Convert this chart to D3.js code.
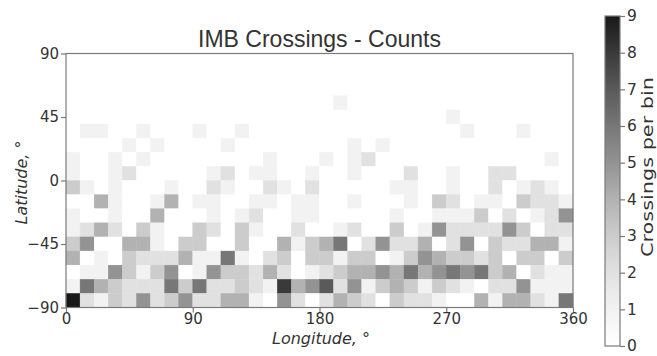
<!DOCTYPE html>
<html>
<head>
<meta charset="utf-8">
<script src="https://cdn.jsdelivr.net/npm/d3@7"></script>
<style>
  body { margin: 0; background: #fff; }
  svg text { font-family: "DejaVu Sans", sans-serif; fill: #333; }
</style>
</head>
<body>
<svg id="chart" width="657" height="356"></svg>
<script>
// bin edges (lower edge of each 10 degree bin)
var lonBins = [0, 10, 20, 30, 40, 50, 60, 70, 80, 90, 100, 110, 120, 130, 140, 150, 160, 170,
               180, 190, 200, 210, 220, 230, 240, 250, 260, 270, 280, 290, 300, 310, 320, 330, 340, 350];
var latBins = [50, 40, 30, 20, 10, 0, -10, -20, -30, -40, -50, -60, -70, -80, -90];

// counts per latitude band, west to east
var lat50 = [0,0,0,0,0,0,0,0,0, 0,0,0,0,0,0,0,0,0, 0,1,0,0,0,0,0,0,0, 0,0,0,0,0,0,0,0,0];
var lat40 = [0,0,0,0,0,0,0,0,0, 0,0,0,0,0,0,0,0,0, 0,0,0,0,0,0,0,0,0, 1,0,0,0,0,0,0,0,0];
var lat30 = [0,1,1,0,0,1,0,0,0, 1,0,0,1,0,0,0,0,0, 0,0,0,0,0,0,0,0,0, 0,1,0,0,0,1,0,0,0];
var lat20 = [0,0,0,0,1,0,1,0,0, 0,0,1,0,0,0,0,0,0, 0,0,1,0,1,0,0,0,0, 0,0,0,0,0,0,0,0,0];
var lat10 = [1,0,0,1,0,1,0,0,0, 0,0,0,0,0,1,0,0,0, 1,0,1,2,0,0,0,0,0, 0,0,0,0,0,0,0,1,0];
var lat0  = [1,0,0,1,2,0,0,0,0, 0,1,2,0,1,1,0,0,1, 0,0,1,0,0,0,2,0,0, 1,0,0,2,2,0,0,0,0];
var latS10 = [3,1,0,1,0,0,0,1,0, 0,2,1,0,0,2,1,0,2, 0,0,0,0,0,1,1,0,0, 1,0,0,2,0,1,2,1,0];
var latS20 = [0,0,4,1,0,0,1,4,0, 1,1,0,0,1,1,0,1,1, 0,0,1,0,0,0,1,0,3, 2,0,1,1,0,3,2,2,1];
var latS30 = [1,0,0,1,0,0,4,0,0, 0,1,0,1,2,0,0,1,1, 0,0,0,0,0,1,0,0,1, 1,1,3,0,2,0,1,2,5];
var latS40 = [1,2,4,2,0,3,1,0,0, 3,2,0,3,1,0,0,2,0, 0,1,2,0,0,3,0,1,5, 2,2,2,2,5,3,0,2,2];
var latS50 = [3,5,0,0,4,4,1,0,3, 3,0,0,3,0,0,4,1,3, 4,6,0,2,5,2,2,4,0, 2,5,0,3,2,2,4,4,1];
var latS60 = [4,0,1,0,3,2,2,2,4, 1,1,6,1,0,2,3,0,3, 3,1,3,3,0,1,3,5,4, 3,3,2,3,0,3,3,0,3];
var latS70 = [0,1,1,5,3,1,3,5,0, 1,5,3,3,2,4,2,0,1, 2,3,4,4,5,4,6,4,5, 6,5,6,3,4,0,2,1,1];
var latS80 = [1,6,4,3,2,2,2,6,3, 6,2,2,3,2,1,8,4,5, 7,2,5,1,3,4,3,1,3, 2,1,0,2,2,5,1,1,1];
var latS90 = [9,2,1,3,2,5,2,3,5, 2,2,4,4,1,0,5,2,0, 2,4,3,2,0,3,2,2,1, 0,0,4,1,4,4,2,1,6];

var bands = [lat50, lat40, lat30, lat20, lat10, lat0, latS10, latS20, latS30, latS40,
             latS50, latS60, latS70, latS80, latS90];

var xTicks = [0, 90, 180, 270, 360];
var yTicks = [90, 45, 0, -45, -90];
var cbarTicks = [0, 1, 2, 3, 4, 5, 6, 7, 8, 9];

var svg = d3.select("#chart");

var x = d3.scaleLinear().domain([0, 360]).range([66, 573]);
var y = d3.scaleLinear().domain([-90, 90]).range([307.5, 53.5]);
// greys, the top end a touch short of pure black like the reference
var color = d3.scaleSequential(function(t) { return d3.interpolateGreys(t * 0.92); }).domain([0, 9]);

var cells = [];
bands.forEach(function(row, i) {
  row.forEach(function(v, j) {
    cells.push({lat: latBins[i], lon: lonBins[j], v: v});
  });
});

svg.append("g").selectAll("rect")
    .data(cells)
  .enter().append("rect")
    .attr("x", function(d) { return x(d.lon); })
    .attr("y", function(d) { return y(d.lat + 10); })
    .attr("width", function(d) { return x(d.lon + 10) - x(d.lon); })
    .attr("height", function(d) { return y(d.lat) - y(d.lat + 10); })
    .attr("fill", function(d) { return color(d.v); })
    .attr("stroke", function(d) { return color(d.v); })
    .attr("stroke-width", 0.4);

// frame
svg.append("rect")
    .attr("x", x(0)).attr("y", y(90))
    .attr("width", x(360) - x(0)).attr("height", y(-90) - y(90))
    .attr("fill", "none").attr("stroke", "#7a7a7a").attr("stroke-width", 1.2);

var xAxis = svg.append("g")
    .attr("transform", "translate(0," + y(-90) + ")")
    .call(d3.axisBottom(x).tickValues(xTicks).tickSize(5).tickPadding(1));
var yAxis = svg.append("g")
    .attr("transform", "translate(" + x(0) + ",0)")
    .call(d3.axisLeft(y).tickValues(yTicks).tickSize(5).tickPadding(2));

[xAxis, yAxis].forEach(function(g) {
  g.select(".domain").remove();
  g.selectAll(".tick line").attr("stroke", "#7a7a7a").attr("stroke-width", 1.2);
  g.selectAll(".tick text").style("font-size", "15px").attr("fill", "#333");
});

svg.append("text")
    .attr("x", (x(0) + x(360)) / 2).attr("y", 47)
    .attr("text-anchor", "middle")
    .attr("textLength", 243).attr("lengthAdjust", "spacingAndGlyphs")
    .style("font-family", "'Liberation Sans', Arial, sans-serif")
    .style("font-size", "24px")
    .text("IMB Crossings - Counts");

svg.append("text")
    .attr("x", 321).attr("y", 344)
    .attr("text-anchor", "middle")
    .style("font-size", "16px").style("font-style", "italic")
    .text("Longitude, °");

svg.append("text")
    .attr("transform", "translate(26.5,182.5) rotate(-90)")
    .attr("text-anchor", "middle")
    .style("font-size", "16px").style("font-style", "italic")
    .text("Latitude, °");

// colorbar
var cb = d3.scaleLinear().domain([0, 9]).range([346, 16]);
var grad = svg.append("defs").append("linearGradient")
    .attr("id", "cbgrad").attr("x1", 0).attr("y1", 1).attr("x2", 0).attr("y2", 0);
grad.selectAll("stop")
    .data(cbarTicks)
  .enter().append("stop")
    .attr("offset", function(d) { return d / 9; })
    .attr("stop-color", function(d) { return color(d); });

svg.append("rect")
    .attr("x", 605).attr("y", cb(9))
    .attr("width", 15).attr("height", cb(0) - cb(9))
    .attr("fill", "url(#cbgrad)")
    .attr("stroke", "#7a7a7a").attr("stroke-width", 1.2);

var cAxis = svg.append("g")
    .attr("transform", "translate(620,0)")
    .call(d3.axisRight(cb).tickValues(cbarTicks).tickSize(5).tickPadding(2));
cAxis.select(".domain").remove();
cAxis.selectAll(".tick line").attr("stroke", "#7a7a7a").attr("stroke-width", 1.2);
cAxis.selectAll(".tick text").style("font-size", "15.5px").attr("fill", "#333");

svg.append("text")
    .attr("transform", "translate(652.5,167) rotate(-90)")
    .attr("text-anchor", "middle")
    .attr("textLength", 180).attr("lengthAdjust", "spacingAndGlyphs")
    .style("font-size", "16px")
    .text("Crossings per bin");
</script>
</body>
</html>
